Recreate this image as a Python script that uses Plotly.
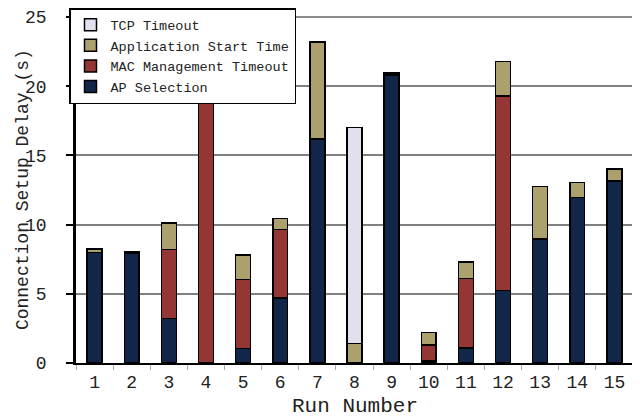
import plotly.graph_objects as go

runs = [str(i) for i in range(1, 16)]
ap_selection = [8.0, 7.95, 3.2, 0.0, 1.05, 4.7, 16.2, 0.0, 20.8, 0.15, 1.1, 5.25, 8.95, 11.95, 13.15]
mac_timeout = [0.0, 0.0, 5.0, 19.0, 5.0, 4.95, 0.0, 0.0, 0.0, 1.15, 5.0, 14.05, 0.0, 0.0, 0.0]
app_start = [0.25, 0.08, 1.9, 0.95, 1.75, 0.8, 7.0, 1.4, 0.15, 0.9, 1.2, 2.5, 3.8, 1.1, 0.85]
tcp_timeout = [0.0, 0.0, 0.0, 0.0, 0.0, 0.0, 0.0, 15.6, 0.0, 0.0, 0.0, 0.0, 0.0, 0.0, 0.0]

series = [
    ("AP Selection", ap_selection, "#12264A"),
    ("MAC Management Timeout", mac_timeout, "#943634"),
    ("Application Start Time", app_start, "#ACA06C"),
    ("TCP Timeout", tcp_timeout, "#E4DFEC"),
]

FONT = "Liberation Mono"
# the page body has an 8px default margin; compensate so the plot lands where the reference has it
OFF = 8

fig = go.Figure()
for name, vals, color in series:
    fig.add_trace(go.Bar(
        x=runs, y=vals, name=name,
        marker=dict(color=color, line=dict(color="black", width=1.5)),
    ))

fig.update_layout(
    barmode="stack",
    bargap=0.6,
    width=640, height=418,
    margin=dict(l=76 - OFF, r=7 + OFF, t=17 - OFF, b=55 + OFF, autoexpand=False),
    plot_bgcolor="white",
    paper_bgcolor="white",
    font=dict(family=FONT, size=18, color="#222222"),
    showlegend=True,
    legend=dict(
        traceorder="reversed",
        xref="container", yref="container",
        x=(69 - OFF) / 640, y=1.0, xanchor="left", yanchor="top",
        bgcolor="white", bordercolor="black", borderwidth=1.5,
        font=dict(family=FONT, size=13.5, color="#222222"),
        itemwidth=30, tracegroupgap=0,
    ),
    shapes=[
        dict(type="line", xref="paper", yref="paper", x0=0, x1=1, y0=1, y1=1,
             line=dict(color="#8c8c8c", width=2), layer="below"),
        dict(type="line", xref="paper", yref="paper", x0=1, x1=1, y0=0, y1=1,
             line=dict(color="#8c8c8c", width=2), layer="below"),
    ],
    annotations=[
        dict(text="Connection Setup Delay (s)", xref="paper", yref="paper",
             x=-0.095, y=0.5, xanchor="center", yanchor="middle",
             textangle=-90, showarrow=False,
             font=dict(family=FONT, size=18, color="#222222")),
        dict(text="Run Number", xref="paper", yref="paper",
             x=0.5, y=-0.125, xanchor="center", yanchor="middle",
             showarrow=False,
             font=dict(family=FONT, size=21, color="#222222")),
    ],
)

fig.update_xaxes(
    type="category",
    tickson="boundaries",
    ticks="outside", ticklen=5, tickcolor="#aaaaaa", tickwidth=1,
    showgrid=False,
    showline=True, linecolor="black", linewidth=2,
    tickfont=dict(family=FONT, size=18, color="#222222"),
    ticklabelstandoff=1,
    automargin=False,
)
fig.update_yaxes(
    range=[0, 25], dtick=5,
    ticks="outside", ticklen=7, tickcolor="black", tickwidth=1.5,
    showgrid=True, gridcolor="#808080", gridwidth=1.5,
    showline=True, linecolor="black", linewidth=2.5,
    zeroline=False,
    tickfont=dict(family=FONT, size=18, color="#222222"),
    ticklabelstandoff=16,
    automargin=False,
)

fig.write_html("out.html")
